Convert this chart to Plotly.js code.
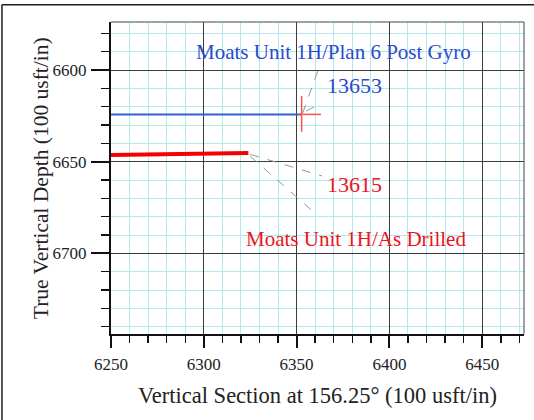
<!DOCTYPE html>
<html><head><meta charset="utf-8">
<script src="https://cdn.plot.ly/plotly-3.0.1.min.js"></script>
<style>html,body{margin:0;padding:0;background:#fff;}#chart{width:534px;height:420px;}</style>
</head><body><div id="chart"></div>
<script>
// Data
const planName = "Moats Unit 1H/Plan 6 Post Gyro";
const planX = [6250, 6352.6];
const planY = [6624.2, 6624.2];
const planMD = "13653";
const drilledName = "Moats Unit 1H/As Drilled";
const drilledX = [6250, 6324];
const drilledY = [6646.4, 6645.2];
const drilledMD = "13615";
// target cross at end of plan
const crossVX = [6352.7, 6352.7];
const crossVY = [6614.2, 6633.7];
const crossHX = [6350.7, 6363.1];
const crossHY = [6624.2, 6624.2];
const xTickVals = [6250, 6300, 6350, 6400, 6450];
const yTickVals = [6600, 6650, 6700];

const serif = "Liberation Serif";
const blue = "rgb(40,75,205)";
const red = "rgb(235,20,30)";

const traces = [
  {x: planX, y: planY, mode: "lines", line: {color: "rgb(50,95,210)", width: 2}, hoverinfo: "skip"},
  {x: drilledX, y: drilledY, mode: "lines", line: {color: "rgb(245,0,0)", width: 4}, hoverinfo: "skip"},
  {x: crossVX, y: crossVY, mode: "lines", line: {color: "rgb(250,80,80)", width: 1.5}, hoverinfo: "skip"},
  {x: crossHX, y: crossHY, mode: "lines", line: {color: "rgb(250,80,80)", width: 1.5}, hoverinfo: "skip"}
];

const lead = {color: "rgb(150,150,150)", width: 1, dash: "dash"};
const shapes = [
  // leader lines
  {type: "line", xref: "x", yref: "y", x0: planX[1] + 0.6, y0: planY[1] - 0.5, x1: 6361.9, y1: 6599.1, line: lead},
  {type: "line", xref: "x", yref: "y", x0: planX[1] + 2.5, y0: planY[1] - 1.8, x1: 6362.6, y1: 6618.5, line: lead},
  {type: "line", xref: "x", yref: "y", x0: drilledX[1] + 1, y0: drilledY[1] + 0.8, x1: 6363.7, y1: 6657.8, line: lead},
  {type: "line", xref: "x", yref: "y", x0: drilledX[1] + 1, y0: drilledY[1] + 1.8, x1: 6361, y1: 6679.1, line: lead},
  // plot frame top / right
  {type: "line", xref: "paper", yref: "paper", x0: 0, x1: 1, y0: 1, y1: 1, line: {color: "rgb(70,70,70)", width: 1}},
  {type: "line", xref: "paper", yref: "paper", x0: 1, x1: 1, y0: 0, y1: 1, line: {color: "rgb(70,70,70)", width: 1}},
  // outer frame (top and left)
  {type: "line", xref: "paper", yref: "paper", x0: -0.264, x1: 1.03, y0: 1.055, y1: 1.055, line: {color: "rgb(30,30,30)", width: 1.5}},
  {type: "line", xref: "paper", yref: "paper", x0: -0.264, x1: -0.264, y0: -0.3, y1: 1.055, line: {color: "rgb(30,30,30)", width: 1.5}}
];

const annotations = [
  {x: 6370, y: 6590.2, xref: "x", yref: "y", text: planName, showarrow: false, font: {family: serif, size: 21, color: blue}},
  {x: 6381.4, y: 6608.2, xref: "x", yref: "y", text: planMD, showarrow: false, font: {family: serif, size: 22, color: blue}},
  {x: 6381.4, y: 6662.7, xref: "x", yref: "y", text: drilledMD, showarrow: false, font: {family: serif, size: 22, color: red}},
  {x: 6382.2, y: 6692.4, xref: "x", yref: "y", text: drilledName, showarrow: false, font: {family: serif, size: 21, color: red}},
  // y axis title
  {x: -0.169, y: 0.5, xref: "paper", yref: "paper", xanchor: "center", yanchor: "middle", textangle: -90,
   text: "True Vertical Depth (100 usft/in)", showarrow: false, font: {family: serif, size: 21.5, color: "#222"}}
];

const layout = {
  width: 534, height: 420,
  margin: {l: 111, r: 10, t: 22, b: 86, pad: 0},
  paper_bgcolor: "#fff", plot_bgcolor: "#fff",
  showlegend: false,
  font: {family: serif, color: "#222"},
  xaxis: {
    range: [6250, 6472.5], tickvals: xTickVals, ticks: "outside", ticklen: 12, tickwidth: 2, tickcolor: "#111",
    showline: true, linewidth: 2, linecolor: "#111",
    showgrid: true, gridcolor: "rgb(60,60,60)", gridwidth: 1, zeroline: false,
    tickfont: {family: serif, size: 17, color: "#222"}, ticklabelstandoff: 2,
    minor: {dtick: 10, ticks: "outside", ticklen: 7, tickwidth: 1.5, tickcolor: "#111", showgrid: true, gridcolor: "rgb(180,232,236)", gridwidth: 1},
    title: {text: "Vertical Section at 156.25° (100 usft/in)", font: {family: serif, size: 22.5, color: "#222"}, standoff: 14},
    automargin: false, fixedrange: true
  },
  yaxis: {
    range: [6744, 6573.8], tickvals: yTickVals, ticks: "outside", ticklen: 18, tickwidth: 2, tickcolor: "#111",
    showline: true, linewidth: 2, linecolor: "#111",
    showgrid: true, gridcolor: "rgb(60,60,60)", gridwidth: 1, zeroline: false,
    tickfont: {family: serif, size: 17, color: "#222"}, ticklabelstandoff: 1,
    minor: {dtick: 10, ticks: "outside", ticklen: 8, tickwidth: 1.5, tickcolor: "#111", showgrid: true, gridcolor: "rgb(180,232,236)", gridwidth: 1},
    automargin: false, fixedrange: true
  },
  shapes: shapes,
  annotations: annotations
};

Plotly.newPlot("chart", traces, layout, {staticPlot: true, displayModeBar: false});
</script>
</body></html>
